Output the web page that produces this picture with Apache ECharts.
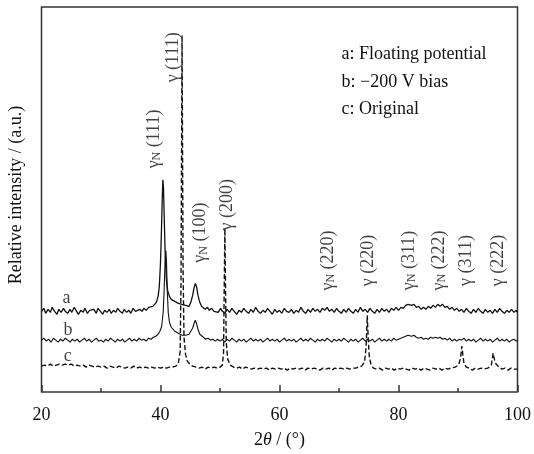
<!DOCTYPE html>
<html>
<head>
<meta charset="utf-8">
<script src="https://cdn.jsdelivr.net/npm/echarts@6/dist/echarts.min.js"></script>
<style>html,body{margin:0;padding:0;background:#fff}#c{width:534px;height:454px}</style>
</head>
<body>
<div id="c"></div>
<script>
// ---- data (2θ in degrees, relative intensity in arbitrary units) ----
const xTicks = [20, 40, 60, 80, 100];

const curveA = [
[20,81],[20.4,84],[20.7,79],[21.1,83],[21.5,80],[21.8,85],[22.2,81],[22.6,78],[22.9,83],[23.3,80],[23.7,84],[24.0,81],[24.4,79],[24.8,83],[25.1,80],[25.5,85],[25.9,81],[26.2,78],[26.6,82],[27.0,80],[27.3,84],[27.7,79],[28.1,82],[28.4,80],[28.8,83],[29.2,79],[29.5,84],[29.9,81],[30.3,78],[30.6,82],[31.0,80],[31.4,83],[31.7,79],[32.1,82],[32.5,80],[32.8,84],[33.2,81],[33.6,79],[33.9,83],[34.3,80],[34.7,82],[35.0,79],[35.4,84],[35.8,81],[36.1,80],[36.5,83],[36.9,81],[37.2,84],[37.6,82],[38.0,85],[38.3,83],[38.7,86],[39.0,87],[39.3,90],[39.6,96],[39.8,106],[40.0,130],[40.15,160],[40.3,195],[40.4,213],[40.5,205],[40.65,170],[40.8,135],[41.0,112],[41.2,102],[41.5,96],[41.8,93],[42.1,95],[42.4,91],[42.7,93],[43.0,89],[43.3,91],[43.6,88],[43.9,90],[44.2,87],[44.5,88],[44.8,86],[45.1,90],[45.4,97],[45.65,105],[45.85,109],[46.05,106],[46.3,97],[46.6,90],[46.9,86],[47.2,87],[47.5,83],[47.9,85],[48.2,82],[48.6,84],[49.0,81],[49.3,83],[49.7,80],[50.1,84],[50.4,81],
[50.8,79],[51.2,83],[51.6,80],[52.0,84],[52.4,81],[52.8,78],[53.2,82],[53.6,80],[54.0,84],[54.4,81],[54.8,79],[55.2,83],[55.6,80],[56.0,85],[56.4,81],[56.8,79],[57.2,82],[57.6,80],[58.0,84],[58.4,81],[58.8,78],[59.2,83],[59.6,80],[60.0,82],[60.4,79],[60.8,84],[61.2,81],[61.6,80],[62.0,83],[62.4,79],[62.8,82],[63.2,80],[63.6,85],[64.0,81],[64.4,79],[64.8,83],[65.2,80],[65.6,84],[66.0,81],[66.4,83],[66.8,80],[67.2,84],[67.6,82],[68.0,85],[68.4,81],[68.8,83],[69.2,80],[69.6,84],[70.0,81],[70.4,79],[70.8,83],[71.2,80],[71.6,84],[72.0,81],[72.4,79],[72.8,83],[73.2,80],[73.6,85],[74.0,81],[74.4,83],[74.8,80],[75.2,84],[75.6,81],[76.0,79],[76.4,83],[76.8,80],[77.2,84],[77.6,81],[78.0,83],[78.4,80],[78.8,84],[79.2,82],[79.6,85],[80.0,82],[80.4,85],[80.8,84],[81.2,87],[81.6,88],[81.9,90],[82.2,87],[82.6,88],[83.0,85],[83.4,86],[83.8,83],[84.2,85],[84.6,83],[85.0,86],[85.4,84],[85.8,87],[86.2,85],[86.6,88],[87.0,86],[87.4,88],[87.8,85],[88.2,86],[88.6,83],[89.0,85],[89.4,82],[89.8,84],[90.2,81],[90.6,83],[91.0,80],[91.4,84],[91.8,81],[92.2,79],[92.6,83],[93.0,80],[93.4,84],[93.8,81],[94.2,79],[94.6,83],[95.0,80],[95.4,82],[95.8,79],[96.2,83],[96.6,80],[97.0,84],[97.4,81],[97.8,79],[98.2,82],[98.6,80],[99.0,83],[99.4,80],[99.8,82],[100,80]
];

const curveB = [
[20,52],[20.4,54],[20.8,51],[21.2,53],[21.6,50],[22.0,54],[22.4,52],[22.8,50],[23.2,53],[23.6,51],[24.0,54],[24.4,52],[24.8,50],[25.2,53],[25.6,51],[26.0,53],[26.4,50],[26.8,52],[27.2,54],[27.6,51],[28.0,53],[28.4,50],[28.8,52],[29.2,54],[29.6,51],[30.0,52],[30.4,50],[30.8,53],[31.2,51],[31.6,54],[32.0,52],[32.4,50],[32.8,53],[33.2,51],[33.6,53],[34.0,50],[34.4,52],[34.8,54],[35.2,51],[35.6,53],[36.0,51],[36.4,54],[36.8,52],[37.2,53],[37.6,51],[38.0,54],[38.4,53],[38.8,55],[39.2,56],[39.6,58],[39.9,61],[40.2,66],[40.45,80],[40.6,100],[40.75,128],[40.9,142],[41.0,132],[41.15,100],[41.3,80],[41.5,70],[41.8,65],[42.1,63],[42.4,61],[42.7,60],[43.0,59],[43.3,58],[43.6,57],[43.9,58],[44.2,57],[44.5,57],[44.8,58],[45.1,60],[45.4,64],[45.65,69],[45.85,72],[46.05,69],[46.3,63],[46.6,58],[46.9,56],[47.2,55],[47.6,53],[48.0,54],[48.4,52],[48.8,53],[49.2,51],[49.6,53],[50.0,51],[50.4,53],[50.8,50],[51.2,53],[51.6,51],[52.0,54],[52.4,52],[52.8,50],[53.2,53],[53.6,51],
[54.0,53],[54.4,50],[54.8,52],[55.2,54],[55.6,51],[56.0,53],[56.4,51],[56.8,53],[57.2,50],[57.6,52],[58.0,54],[58.4,51],[58.8,53],[59.2,51],[59.6,53],[60.0,50],[60.4,52],[60.8,54],[61.2,51],[61.6,53],[62.0,51],[62.4,53],[62.8,50],[63.2,52],[63.6,54],[64.0,51],[64.4,53],[64.8,51],[65.2,54],[65.6,52],[66.0,50],[66.4,53],[66.8,51],[67.2,53],[67.6,51],[68.0,54],[68.4,52],[68.8,50],[69.2,53],[69.6,51],[70.0,53],[70.4,51],[70.8,54],[71.2,52],[71.6,50],[72.0,53],[72.4,51],[72.8,53],[73.2,50],[73.6,52],[74.0,54],[74.4,51],[74.8,53],[75.2,51],[75.6,53],[76.0,50],[76.4,52],[76.8,54],[77.2,51],[77.6,53],[78.0,51],[78.4,53],[78.8,51],[79.2,54],[79.6,52],[80.0,53],[80.4,54],[80.8,55],[81.2,56],[81.6,57],[81.9,58],[82.2,56],[82.6,57],[83.0,55],[83.4,54],[83.8,55],[84.2,53],[84.6,54],[85.0,53],[85.4,55],[85.8,54],[86.2,55],[86.6,54],[87.0,55],[87.4,53],[87.8,54],[88.2,52],[88.6,54],[89.0,51],[89.4,53],[89.8,51],[90.2,53],[90.6,52],[91.0,54],[91.4,51],[91.8,53],[92.2,51],[92.6,53],[93.0,50],[93.4,52],[93.8,54],[94.2,51],[94.6,53],[95.0,51],[95.4,53],[95.8,50],[96.2,52],[96.6,54],[97.0,51],[97.4,53],[97.8,51],[98.2,53],[98.6,50],[99.0,52],[99.4,53],[99.8,51],[100,52]
];

const curveC = [
[20,26],[20.5,27],[21,26],[21.5,28],[22,26],[22.5,27],[23,28],[23.5,27],[24,28],[24.5,27],[25,28],[25.5,26],[26,27],[26.5,26],[27,27],[27.5,25],[28,27],[28.5,26],[29,25],[29.5,26],[30,25],[30.5,26],[31,24],[31.5,26],[32,25],[32.5,24],[33,26],[33.5,25],[34,24],[34.5,25],[35,24],[35.5,26],[36,24],[36.5,25],[37,24],[37.5,25],[38,24],[38.5,25],[39,24],[39.5,25],[40,24],[40.5,25],[41,24],[41.5,25],[42,25],[42.6,26],[43.0,29],[43.3,40],[43.45,110],[43.55,250],[43.62,358],[43.7,250],[43.8,120],[43.95,55],[44.2,38],[44.5,31],[44.9,28],[45.4,26],[46,25],[46.5,24],[47,25],[47.5,23],[48,25],[48.5,24],[49,25],[49.5,24],[50,25],[50.4,27],[50.6,40],[50.72,110],[50.82,164],[50.92,110],[51.05,50],[51.3,33],[51.7,27],[52.3,25],[52.8,24],[53.3,25],[53.8,23],[54.3,25],[54.8,24],[55.3,23],[55.8,24],[56.3,23],[56.8,24],[57.3,23],[57.8,24],[58.3,22],[58.8,24],[59.3,23],[59.8,24],[60.3,23],[60.8,24],[61.3,22],[61.8,24],[62.3,23],[62.8,24],[63.3,23],[63.8,24],[64.3,22],[64.8,24],[65.3,23],[65.8,24],[66.3,23],[66.8,22],[67.3,24],[67.8,23],[68.3,24],[68.8,22],[69.3,24],[69.8,23],[70.3,24],[70.8,23],[71.3,24],[71.8,23],[72.3,24],[72.8,24],[73.3,25],[73.8,26],[74.3,30],[74.55,45],[74.75,77],[74.9,55],[75.1,35],[75.4,27],[75.8,24],[76.3,23],[76.8,24],[77.3,22],[77.8,24],[78.3,23],[78.8,24],[79.3,22],[79.8,24],[80.3,23],[80.8,24],[81.3,23],[81.8,22],[82.3,24],[82.8,23],[83.3,24],[83.8,22],[84.3,24],[84.8,23],[85.3,22],[85.8,24],[86.3,23],[86.8,24],[87.3,22],[87.8,24],[88.3,23],[88.8,24],[89.5,25],[90.1,27],[90.45,35],[90.65,46],[90.8,38],[91.0,29],[91.4,25],[91.9,24],[92.4,22],[92.9,24],[93.4,23],[93.9,24],[94.4,23],[95,24],[95.6,27],[95.9,39],[96.1,33],[96.4,28],[96.9,25],[97.4,23],[97.9,24],[98.4,22],[98.9,24],[99.4,23],[100,23]
];

// peak labels: position (2θ, intensity) and text
const peakLabelX = [38.95, 42.2, 46.75, 51.3, 68.2, 74.9, 81.8, 86.8, 91.45, 96.7];
const peakLabelY = [254, 336, 160, 188, 132, 132, 132, 132, 132, 132];
const peakLabelText = ['γN (111)', 'γ (111)', 'γN (100)', 'γ (200)', 'γN (220)', 'γ (220)', 'γN (311)', 'γN (222)', 'γ (311)', 'γ (222)'];

// curve letters
const curveLabelX = [24.2, 24.45, 24.4];
const curveLabelY = [94, 62, 36];
const curveLabelText = ['a', 'b', 'c'];

const legendLines = ['a: Floating potential', 'b: \u2212200 V bias', 'c: Original'];

// ---- chart ----
const FONT = "'Liberation Serif', 'Times New Roman', serif";
const chart = echarts.init(document.getElementById('c'), null, {renderer: 'canvas'});

function peakFmt(t) {
  if (t.indexOf('γN') === 0) return '{g|γ}{s|N}{g|' + t.slice(2) + '}';
  return '{g|' + t + '}';
}

const option = {
  animation: false,
  backgroundColor: '#fff',
  grid: {left: 41.5, right: 15.5, top: 7, bottom: 60.5, show: true, borderColor: '#333', borderWidth: 1.5, backgroundColor: 'transparent'},
  xAxis: {
    type: 'value', min: xTicks[0], max: xTicks[xTicks.length - 1], interval: 20,
    axisLine: {show: false},
    axisTick: {show: true, inside: true, length: 7, lineStyle: {color: '#333', width: 1.5}},
    minorTick: {show: true, splitNumber: 2, length: 4, lineStyle: {color: '#333', width: 1.5}},
    splitLine: {show: false},
    axisLabel: {color: '#111', fontFamily: FONT, fontSize: 18, margin: 14},
    name: '2{i|θ} / (°)', nameLocation: 'middle', nameGap: 39,
    nameTextStyle: {color: '#111', fontFamily: FONT, fontSize: 18, rich: {i: {fontStyle: 'italic', fontFamily: FONT, fontSize: 18, color: '#111'}}}
  },
  yAxis: {
    type: 'value', min: 0, max: 386.5,
    axisLine: {show: false}, axisTick: {show: false}, axisLabel: {show: false}, splitLine: {show: false}
  },
  graphic: [
    {type: 'text', left: 341.5, top: 45, style: {text: legendLines[0], font: '18px ' + FONT, fill: '#111'}},
    {type: 'text', left: 341.5, top: 73, style: {text: legendLines[1], font: '18px ' + FONT, fill: '#111'}},
    {type: 'text', left: 341.5, top: 100, style: {text: legendLines[2], font: '18px ' + FONT, fill: '#111'}},
    {type: 'text', x: 16, y: 195, rotation: Math.PI / 2, style: {text: 'Relative intensity / (a.u.)', font: '18px ' + FONT, fill: '#111', align: 'center', verticalAlign: 'middle'}}
  ],
  series: [
    {type: 'line', data: curveC, showSymbol: false, smooth: false, lineStyle: {color: '#111', width: 1.4, type: [5, 2.5]}, z: 2},
    {type: 'line', data: curveB, showSymbol: false, smooth: false, lineStyle: {color: '#111', width: 1.1}, z: 3},
    {type: 'line', data: curveA, showSymbol: false, smooth: false, lineStyle: {color: '#111', width: 1.3}, z: 4},
    {
      type: 'scatter', symbolSize: 1, itemStyle: {color: 'rgba(0,0,0,0)'}, silent: true, z: 5,
      data: peakLabelX.map((x, i) => [x, peakLabelY[i], peakLabelText[i]]),
      label: {
        show: true, position: 'inside', rotate: 90, align: 'center', verticalAlign: 'middle',
        formatter: p => peakFmt(p.value[2]),
        rich: {
          g: {fontFamily: FONT, fontSize: 18, color: '#111'},
          s: {fontFamily: FONT, fontSize: 12, color: '#111', verticalAlign: 'bottom', padding: [6, 0, 0, 0]}
        }
      }
    },
    {
      type: 'scatter', symbolSize: 1, itemStyle: {color: 'rgba(0,0,0,0)'}, silent: true, z: 5,
      data: curveLabelX.map((x, i) => [x, curveLabelY[i], curveLabelText[i]]),
      label: {show: true, position: 'inside', formatter: p => p.value[2], fontFamily: FONT, fontSize: 18, color: '#111'}
    }
  ]
};
chart.setOption(option);
</script>
</body>
</html>
